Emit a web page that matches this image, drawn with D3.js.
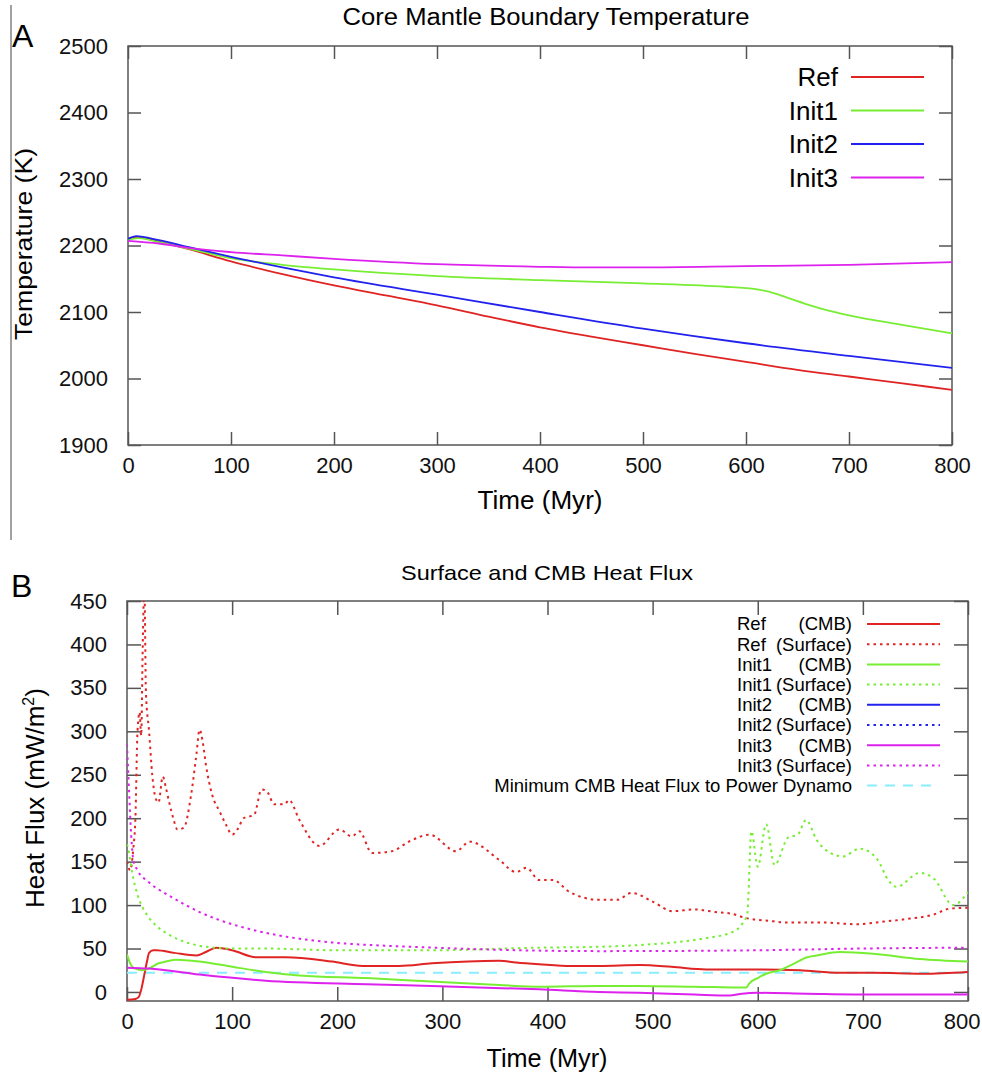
<!DOCTYPE html>
<html lang="en">
<head>
<meta charset="UTF-8">
<title>Core mantle boundary temperature and heat flux</title>
<script src="https://cdn.jsdelivr.net/npm/d3@7"></script>
<style>
    body { margin: 0; background: white; }
    svg { display: block; font-family: "Liberation Sans", Arial, sans-serif; }
    .axis path { display: none; }
    .axis line { stroke: #555; stroke-width: 1.5; }
    .axis text { font-size: 22px; fill: #111; }
</style>
</head>
<body>
<svg id="chart" width="982" height="1078"></svg>
<script>
// DATA (time in Myr)
// Panel A: CMB temperature (K)
const refTemp = [[0,2210],[10,2212],[30,2206],[60,2194],[100,2176],[150,2157],[200,2140],[250,2125],[300,2110],[350,2093],[400,2077],[450,2063],[500,2050],[550,2037],[600,2025],[650,2013],[700,2003],[750,1993],[800,1983]];
const init1Temp = [[0,2208],[10,2211],[30,2205],[60,2195],[100,2181],[150,2171],[200,2164],[300,2154],[400,2148],[500,2143],[580,2138],[600,2136],[615,2133],[630,2127],[645,2119],[660,2111],[680,2102],[700,2095],[750,2081],[800,2068]];
const init2Temp = [[0,2210],[8,2214],[30,2208],[60,2197],[100,2183],[150,2167],[200,2152],[300,2126],[400,2100],[500,2075],[600,2053],[700,2034],[800,2016]];
const init3Temp = [[0,2207],[30,2203],[60,2196],[100,2190],[150,2185],[200,2180],[300,2172],[400,2168],[450,2167],[500,2167],[600,2169],[700,2171],[800,2175]];

// Panel B: heat flux (mW/m^2)
const refSurface = [[0,150],[3,140],[6,165],[8,200],[10,300],[12,322],[13.5,295],[15,400],[16.5,470],[18,345],[21,300],[24,250],[27,224],[30,218],[34,248],[37,235],[40,219],[44,200],[48,187],[54,189],[61,227],[66,273],[69,302],[72,288],[75,262],[81,227],[88,208],[94,193],[100,181],[105,187],[111,200],[121,204],[128,233],[133,231],[140,216],[150,216],[154,221],[164,198],[183,168],[202,187],[214,179],[221,185],[233,160],[252,162],[268,173],[288,181],[313,162],[326,173],[354,152],[370,138],[380,143],[392,129],[405,129],[421,115],[450,106],[466,106],[480,114],[500,104],[519,93],[540,95],[560,92],[575,90],[589,85],[610,82],[628,80],[660,80],[694,78],[720,81],[742,84],[767,89],[783,96],[800,97]];
const init1Surface = [[0,170],[2,160],[5,137],[10,112],[15,97],[20,87],[28,76],[37,68],[50,60],[70,53],[100,50],[130,50],[200,48],[290,48],[392,51],[449,52],[487,54],[520,57],[551,62],[576,69],[585,78],[590,90],[594,185],[600,144],[608,193],[616,146],[629,178],[638,181],[646,198],[656,175],[669,160],[681,156],[697,165],[714,152],[724,129],[732,121],[754,137],[767,131],[786,100],[800,115]];
const init3Surface = [[0,285],[2,230],[4,180],[6,152],[10,140],[20,127],[37,113],[50,104],[69,92],[85,84],[100,78],[132,68],[160,62],[195,57],[250,53],[290,51],[449,47],[600,48],[700,50],[800,51]];
const refCmb = [[0,-9],[8,-8],[11,-6],[14,5],[16,17],[19,35],[21,45],[25,48],[28,48],[45,45],[66,42],[75,46],[85,51],[100,48],[123,40],[151,40],[195,35],[224,30],[259,30],[290,33],[354,36],[370,34],[392,32],[423,30],[449,30],[488,31],[518,29],[551,26],[600,26],[640,25],[678,22],[710,22],[757,21],[800,23]];
const init1Cmb = [[0,43],[3,33],[5,29],[10,26],[14,25],[21,27],[30,33],[37,35],[47,37],[69,35],[100,29],[132,23],[164,19],[228,16],[290,12],[354,8],[392,6],[449,7],[487,7],[540,6],[589,5],[592,10],[600,16],[608,21],[621,25],[635,33],[647,40],[656,42],[678,46],[710,44],[754,38],[800,35]];
const init3Cmb = [[0,28],[21,27],[69,20],[132,13],[228,9],[290,7],[392,3],[449,0],[487,-1],[540,-3],[573,-4],[585,-2],[599,-1],[647,-2],[710,-3],[800,-3]];
const minDynamoFlux = 22;

const timeTicks = [0,100,200,300,400,500,600,700,800];
const tempTicks = [1900,2000,2100,2200,2300,2400,2500];
const fluxTicks = [0,50,100,150,200,250,300,350,400,450];

const colors = {ref: "#e02424", init1: "#77ee33", init2: "#2222ee", init3: "#dd22ee", dynamo: "#88eeff"};

const svg = d3.select("#chart");

// Box with mirrored inward ticks, gnuplot style
function drawFrame(g, x, y, xTicks, yTicks, tick, id) {
    const [x0, x1] = x.range(), [y0, y1] = y.range();
    const bottom = g.append("g").attr("class", "axis").attr("transform", `translate(0,${y0})`)
        .call(d3.axisBottom(x).tickValues(xTicks).tickSize(-tick).tickPadding(12).tickFormat(d3.format("d")));
    g.append("g").attr("class", "axis").attr("transform", `translate(0,${y1})`)
        .call(d3.axisTop(x).tickValues(xTicks).tickSize(-tick).tickFormat(""));
    g.append("g").attr("class", "axis").attr("transform", `translate(${x0},0)`)
        .call(d3.axisLeft(y).tickValues(yTicks).tickSize(-tick).tickPadding(20).tickFormat(d3.format("d")));
    g.append("g").attr("class", "axis").attr("transform", `translate(${x1},0)`)
        .call(d3.axisRight(y).tickValues(yTicks).tickSize(-tick).tickFormat(""));
    g.append("rect").attr("x", x0).attr("y", y1).attr("width", x1 - x0).attr("height", y0 - y1)
        .attr("fill", "none").attr("stroke", "#555").attr("stroke-width", 1.5);
    g.append("clipPath").attr("id", id).append("rect")
        .attr("x", x0).attr("y", y1).attr("width", x1 - x0).attr("height", y0 - y1);
    return bottom;
}

// text stretched to the width measured on the reference
function label(g, x, y, size, str, len, rotate) {
    return g.append("text")
        .attr("transform", `translate(${x},${y})` + (rotate ? " rotate(-90)" : ""))
        .attr("text-anchor", "middle").attr("font-size", size)
        .attr("textLength", len).attr("lengthAdjust", "spacingAndGlyphs")
        .text(str);
}

// PANEL A
const xA = d3.scaleLinear().domain([0, 800]).range([128, 952]);
const yA = d3.scaleLinear().domain([1900, 2500]).range([445, 46]);
const gA = svg.append("g");

gA.append("line").attr("x1", 11).attr("x2", 11).attr("y1", 5).attr("y2", 540)
    .attr("stroke", "#444").attr("stroke-width", 1);

drawFrame(gA, xA, yA, timeTicks, tempTicks, 13, "clipA");

const lineA = d3.line().x(d => xA(d[0])).y(d => yA(d[1])).curve(d3.curveMonotoneX);
const seriesA = [
    {name: "Ref", data: refTemp, color: colors.ref},
    {name: "Init1", data: init1Temp, color: colors.init1},
    {name: "Init2", data: init2Temp, color: colors.init2},
    {name: "Init3", data: init3Temp, color: colors.init3}
];
gA.append("g").attr("clip-path", "url(#clipA)")
    .selectAll("path").data(seriesA).join("path")
        .attr("d", d => lineA(d.data))
        .attr("fill", "none").attr("stroke", d => d.color).attr("stroke-width", 1.8);

const legA = gA.append("g").selectAll("g").data(seriesA).join("g")
    .attr("transform", (d, i) => `translate(0,${77 + i * 33.5})`);
legA.append("text").attr("x", 838).attr("dy", "0.35em").attr("text-anchor", "end")
    .attr("font-size", 26).text(d => d.name);
legA.append("line").attr("x1", 851).attr("x2", 924)
    .attr("stroke", d => d.color).attr("stroke-width", 1.8);

label(gA, 546, 25, 23, "Core Mantle Boundary Temperature", 407);
gA.append("text").attr("x", 12).attr("y", 47).attr("font-size", 32).text("A");
label(gA, 32, 244, 24, "Temperature (K)", 192, true);
label(gA, 540, 509, 26, "Time (Myr)", 125);

// PANEL B
const xB = d3.scaleLinear().domain([0, 800]).range([127, 968]);
const yB = d3.scaleLinear().domain([-10.4, 450]).range([1001, 601]);
const gB = svg.append("g");

const bottomB = drawFrame(gB, xB, yB, timeTicks, fluxTicks, 14, "clipB");
// last label sits at the page edge in the reference: keep it inside
bottomB.selectAll(".tick text").filter(d => d === 800).attr("text-anchor", "end").attr("dx", 12);

const lineB = d3.line().x(d => xB(d[0])).y(d => yB(d[1])).curve(d3.curveMonotoneX);
const seriesB = [
    {name: "Ref", kind: "(CMB)", data: refCmb, color: colors.ref, dash: null},
    {name: "Ref", kind: "(Surface)", data: refSurface, color: colors.ref, dash: "2.5,4"},
    {name: "Init1", kind: "(CMB)", data: init1Cmb, color: colors.init1, dash: null},
    {name: "Init1", kind: "(Surface)", data: init1Surface, color: colors.init1, dash: "2.5,4"},
    {name: "Init2", kind: "(CMB)", data: null, color: colors.init2, dash: null},
    {name: "Init2", kind: "(Surface)", data: null, color: colors.init2, dash: "2.5,4"},
    {name: "Init3", kind: "(CMB)", data: init3Cmb, color: colors.init3, dash: null},
    {name: "Init3", kind: "(Surface)", data: init3Surface, color: colors.init3, dash: "2.5,4"}
];

const plotB = gB.append("g").attr("clip-path", "url(#clipB)");
plotB.append("line")
    .attr("x1", xB(0)).attr("x2", xB(800)).attr("y1", yB(minDynamoFlux)).attr("y2", yB(minDynamoFlux))
    .attr("stroke", colors.dynamo).attr("stroke-width", 2).attr("stroke-dasharray", "10,8");
plotB.selectAll("path").data(seriesB.filter(d => d.data)).join("path")
    .attr("d", d => lineB(d.data))
    .attr("fill", "none").attr("stroke", d => d.color).attr("stroke-width", 2)
    .attr("stroke-dasharray", d => d.dash);

const legB = gB.append("g").selectAll("g").data(seriesB).join("g")
    .attr("transform", (d, i) => `translate(0,${624 + i * 20.2})`);
legB.append("text").attr("x", 737).attr("dy", "0.35em").attr("font-size", 18.5).text(d => d.name);
legB.append("text").attr("x", 852).attr("dy", "0.35em").attr("text-anchor", "end")
    .attr("font-size", 18.5).text(d => d.kind);
legB.append("line").attr("x1", 867).attr("x2", 940)
    .attr("stroke", d => d.color).attr("stroke-width", 2).attr("stroke-dasharray", d => d.dash);
const legDyn = gB.append("g").attr("transform", `translate(0,${624 + 8 * 20.2})`);
legDyn.append("text").attr("x", 852).attr("dy", "0.35em").attr("text-anchor", "end")
    .attr("font-size", 18.5).text("Minimum CMB Heat Flux to Power Dynamo");
legDyn.append("line").attr("x1", 867).attr("x2", 932)
    .attr("stroke", colors.dynamo).attr("stroke-width", 2).attr("stroke-dasharray", "10,8");

label(gB, 547, 580, 21, "Surface and CMB Heat Flux", 292);
gB.append("text").attr("x", 11).attr("y", 597).attr("font-size", 32).text("B");
const yLab = gB.append("text").attr("transform", "translate(44,798) rotate(-90)")
    .attr("text-anchor", "middle").attr("font-size", 26);
yLab.append("tspan").text("Heat Flux (mW/m");
yLab.append("tspan").attr("font-size", 16).attr("dy", -10).text("2");
yLab.append("tspan").attr("dy", 10).text(")");
label(gB, 547, 1067, 26, "Time (Myr)", 121);
</script>
</body>
</html>
